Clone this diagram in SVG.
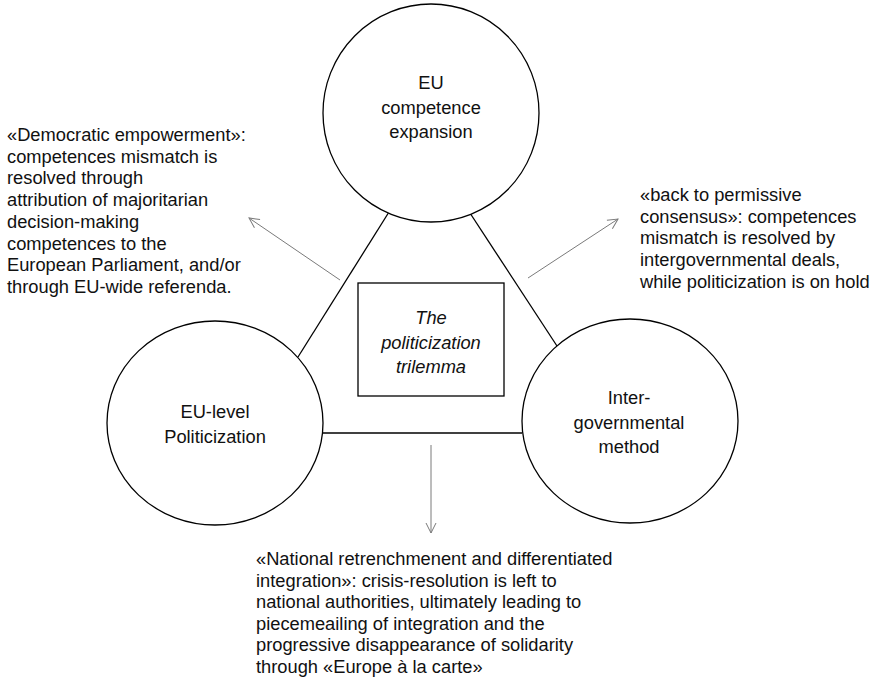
<svg xmlns="http://www.w3.org/2000/svg" width="871" height="683" viewBox="0 0 871 683">
  <style>
    .node { fill: #ffffff; stroke: #000000; stroke-width: 1.3; }
    .edge { stroke: #000000; stroke-width: 1.3; fill: none; }
    .arrow { stroke: #7a7a7a; stroke-width: 1; fill: none; marker-end: url(#open); }
    text { font-family: "Liberation Sans", Arial, sans-serif; font-size: 18.3px; fill: #111111; }
    .label { text-anchor: middle; }
    .title { font-style: italic; }
  </style>
  <defs>
    <marker id="open" viewBox="0 0 12 12" refX="11" refY="6" markerWidth="12" markerHeight="12" markerUnits="userSpaceOnUse" orient="auto">
      <path d="M1,1 L11,6 L1,11" fill="none" stroke="#7a7a7a" stroke-width="1"/>
    </marker>
  </defs>

  <rect width="871" height="683" fill="#ffffff"/>

  <!-- triangle sides and arrows -->
  <g id="connectors">
    <line class="edge" x1="389" y1="212" x2="298" y2="357"/>
    <line class="edge" x1="468" y1="210" x2="557" y2="346"/>
    <line class="edge" x1="323" y1="433" x2="522" y2="433"/>
    <line class="arrow" x1="340" y1="280" x2="249" y2="218"/>
    <line class="arrow" x1="528" y1="278" x2="618" y2="219"/>
    <line class="arrow" x1="431" y1="445" x2="431" y2="533"/>
  </g>

  <g id="competence">
    <ellipse class="node" cx="431" cy="113" rx="108" ry="109"/>
    <text class="label" x="431" y="89">EU</text>
    <text class="label" x="431" y="114">competence</text>
    <text class="label" x="431" y="138">expansion</text>
  </g>

  <g id="politicization">
    <ellipse class="node" cx="215" cy="423" rx="108" ry="102"/>
    <text class="label" x="215" y="418">EU-level</text>
    <text class="label" x="215" y="443">Politicization</text>
  </g>

  <g id="intergovernmental">
    <ellipse class="node" cx="630" cy="421" rx="108" ry="102"/>
    <text class="label" x="629" y="404">Inter-</text>
    <text class="label" x="629" y="429">governmental</text>
    <text class="label" x="629" y="453">method</text>
  </g>

  <g id="trilemma">
    <rect class="node" x="358" y="283" width="146" height="113"/>
    <text class="label title" x="431" y="324">The</text>
    <text class="label title" x="431" y="349">politicization</text>
    <text class="label title" x="431" y="373">trilemma</text>
  </g>

  <g id="empowerment">
    <text x="7" y="141">«Democratic empowerment»:</text>
    <text x="7" y="162.7">competences mismatch is</text>
    <text x="7" y="184.4">resolved through</text>
    <text x="7" y="206.1">attribution of majoritarian</text>
    <text x="7" y="227.8">decision-making</text>
    <text x="7" y="249.5">competences to the</text>
    <text x="7" y="271.2">European Parliament, and/or</text>
    <text x="7" y="292.9">through EU-wide referenda.</text>
  </g>

  <g id="permissive">
    <text x="640" y="201">«back to permissive</text>
    <text x="640" y="222.7">consensus»: competences</text>
    <text x="640" y="244.4">mismatch is resolved by</text>
    <text x="640" y="266.1">intergovernmental deals,</text>
    <text x="640" y="287.8">while politicization is on hold</text>
  </g>

  <g id="retrenchment">
    <text x="256" y="565">«National retrenchmenent and differentiated</text>
    <text x="256" y="586.5">integration»: crisis-resolution is left to</text>
    <text x="256" y="608">national authorities, ultimately leading to</text>
    <text x="256" y="629.5">piecemeailing of integration and the</text>
    <text x="256" y="651">progressive disappearance of solidarity</text>
    <text x="256" y="672.5">through «Europe à la carte»</text>
  </g>
</svg>
